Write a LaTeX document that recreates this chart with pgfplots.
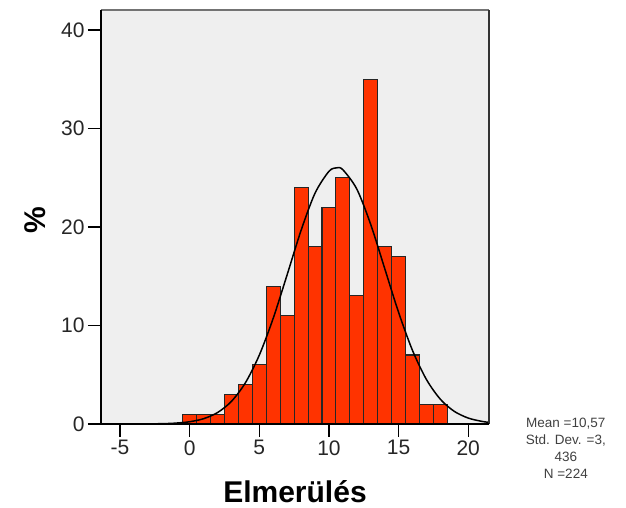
\documentclass[border=0pt]{standalone}
\usepackage{fontspec}
\setmainfont{Liberation Sans}
\usepackage{pgfplots}
\pgfplotsset{compat=1.18}
\definecolor{barfill}{HTML}{FF3300}
\definecolor{bgfill}{HTML}{EFEFEF}
\begin{document}
\begin{tikzpicture}[x=1pt,y=1pt]
\begin{axis}[
  scale only axis,
  width=388pt, height=414pt,
  xmin=-6.364, xmax=21.49,
  ymin=0, ymax=42.03,
  axis background/.style={fill=bgfill},
  axis line style={draw=none},
  xtick={-5,0,5,10,15,20},
  ytick={0,10,20,30,40},
  xtick pos=left, ytick pos=left,
  tick align=outside,
  major tick length=13pt,
  tick style={black, line width=1.4pt},
  /pgf/number format/assume math mode=true,
  tick label style={font=\fontsize{21}{24}\selectfont, text=black!85},
  xlabel={\textbf{Elmerülés}},
  xlabel style={at={(axis description cs:0.5,-0.163)}, anchor=center, font=\fontsize{30}{32}\selectfont},
  ylabel={\textbf{\%}},
  ylabel style={at={(axis description cs:-0.170,0.493)}, anchor=center, font=\fontsize{30}{32}\selectfont},
  clip=false,
]
\addplot[ybar, bar width=1, fill=barfill, draw=black!85, line width=1.1pt] coordinates {
(0,1) (1,1) (2,1) (3,3) (4,4) (5,6) (6,14) (7,11) (8,24) (9,18)
(10,22) (11,25) (12,13) (13,35) (14,18) (15,17) (16,7) (17,2) (18,2)
};
\addplot[black, line width=1.5pt, smooth, mark=none] coordinates {
(-6.36,0.0002) (-4,0.0032) (-2,0.032) (-1,0.090) (0,0.229) (1,0.538) (2,1.160) (3,2.298) (4,4.180)
(5,6.991) (6,10.74) (7,15.16) (8,19.66) (9,23.43) (10,25.65) (10.57,26.01) (11,25.81)
(12,23.85) (13,20.25) (14,15.80) (15,11.33) (16,7.462) (17,4.515) (18,2.510)
(19,1.282) (20,0.602) (21,0.260) (21.49,0.165)
};
\draw[black!55, line width=1.6pt] (rel axis cs:0,1) -- (rel axis cs:1,1);
\draw[black!80, line width=1.6pt] (rel axis cs:1,0) -- (rel axis cs:1,1);
\draw[black, line width=1.8pt] (rel axis cs:0,1) -- (rel axis cs:0,0) -- (rel axis cs:1,0);
\node[align=center, font=\fontsize{13.5}{17}\selectfont, text=black!75] at (axis description cs:1.198,-0.058)
  {Mean =10,57\\Std. Dev. =3,\\436\\N =224};
\end{axis}
\path (current axis.south west) ++(-101pt,-84pt) rectangle ++(626pt,508pt);
\end{tikzpicture}
\end{document}
